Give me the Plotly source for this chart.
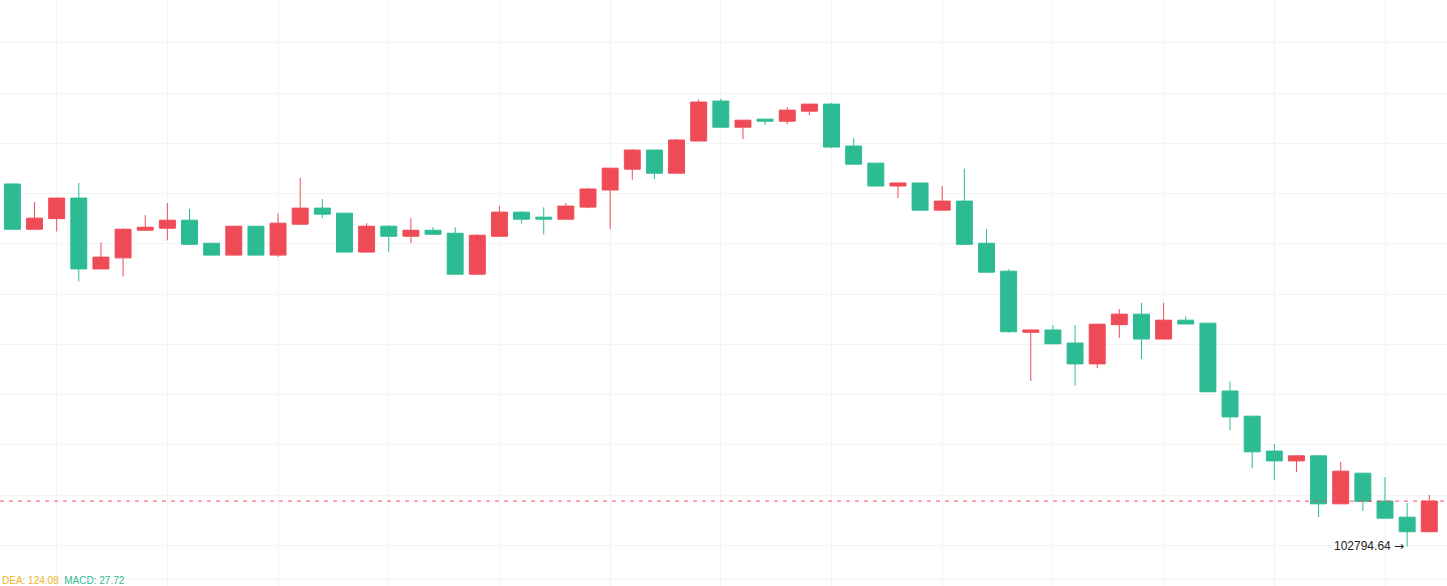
import plotly.graph_objects as go

# ---- data ----
idx = list(range(65))
opens = [104238, 104058, 104100, 104182, 103900, 103944, 104054, 104062, 104094, 104002,
         103955, 104070, 103955, 104078, 104142, 104122, 103967, 104070, 104030, 104054,
         104042, 103879, 104030, 104126, 104106, 104098, 104146, 104214, 104297, 104373,
         104281, 104409, 104568, 104464, 104496, 104488, 104528, 104556, 104389, 104321,
         104230, 104242, 104134, 104170, 104002, 103891, 103648, 103657, 103605, 103522,
         103678, 103720, 103621, 103696, 103684, 103414, 103314, 103175, 103136, 103156,
         102965, 103087, 102976, 102912, 102854]
highs = [104238, 104166, 104182, 104242, 104006, 104062, 104114, 104162, 104139, 104002,
         104070, 104070, 104121, 104262, 104178, 104122, 104082, 104074, 104102, 104066,
         104066, 104038, 104150, 104130, 104145, 104162, 104222, 104301, 104377, 104373,
         104417, 104575, 104577, 104492, 104496, 104544, 104556, 104560, 104421, 104321,
         104242, 104242, 104230, 104299, 104058, 103898, 103657, 103676, 103676, 103680,
         103740, 103765, 103765, 103712, 103684, 103452, 103314, 103203, 103159, 103156,
         103131, 103087, 103071, 102968, 103000]
lows = [104058, 104058, 104049, 103850, 103900, 103870, 104054, 104014, 103998, 103955,
        103955, 103955, 103948, 104078, 104102, 103967, 103967, 103967, 104002, 104038,
        103879, 103879, 104030, 104082, 104038, 104098, 104142, 104058, 104255, 104258,
        104281, 104409, 104464, 104417, 104474, 104476, 104512, 104381, 104317, 104230,
        104182, 104134, 104134, 103998, 103887, 103646, 103454, 103602, 103436, 103505,
        103626, 103541, 103621, 103681, 103411, 103258, 103107, 103060, 103091, 102912,
        102965, 102936, 102908, 102794.64, 102854]
closes = [104058, 104102, 104182, 103900, 103947, 104058, 104066, 104094, 103998, 103955,
          104070, 103955, 104082, 104142, 104118, 103967, 104070, 104030, 104054, 104038,
          103879, 104034, 104126, 104098, 104098, 104150, 104218, 104301, 104373, 104281,
          104413, 104564, 104464, 104492, 104488, 104532, 104556, 104385, 104317, 104230,
          104242, 104134, 104170, 103998, 103887, 103650, 103657, 103602, 103522, 103680,
          103720, 103621, 103696, 103681, 103411, 103311, 103172, 103136, 103156, 102965,
          103095, 102975, 102908, 102854, 102976]

low_label = "102794.64"
dea_label = "DEA: 124.08"
macd_label = "MACD: 27.72"

UP = "#ef4b56"    # rising candles (red)
DOWN = "#2dbb93"  # falling candles (green)
GRID = "#f4f4f4"

fig = go.Figure()
fig.add_trace(go.Candlestick(
    x=idx, open=opens, high=highs, low=lows, close=closes,
    increasing=dict(line=dict(color=UP, width=1), fillcolor=UP),
    decreasing=dict(line=dict(color=DOWN, width=1), fillcolor=DOWN),
    whiskerwidth=0, showlegend=False, hoverinfo="skip",
))

last_close = closes[-1]
min_i = min(range(len(lows)), key=lambda i: lows[i])

fig.add_shape(type="line", xref="paper", x0=0, x1=1, yref="y", y0=last_close, y1=last_close,
              line=dict(color=UP, width=1, dash="4px,5px"), layer="above")
fig.add_shape(type="line", xref="paper", x0=0, x1=1, yref="paper", y0=7/586, y1=7/586,
              line=dict(color=GRID, width=1), layer="below")

fig.add_annotation(x=idx[min_i], y=lows[min_i], xref="x", yref="y",
                   text=low_label + ' <span style="font-family:DejaVu Sans">→</span>',
                   showarrow=False, xanchor="right", yanchor="middle", xshift=-1, yshift=1,
                   font=dict(family="Arial", size=12, color="#222222"))
fig.add_annotation(x=0, y=0, xref="paper", yref="paper", xanchor="left", yanchor="bottom",
                   showarrow=False, yshift=-2,
                   text=f'<span style="color:#f0b429">{dea_label}</span>  <span style="color:#2dbb93">{macd_label}</span>',
                   font=dict(family="Arial", size=10))

y_top = 104970.3
y_bot = 104970.3 - 3.98 * 586
fig.update_layout(
    width=1447, height=586,
    margin=dict(l=0, r=0, t=0, b=0),
    paper_bgcolor="white", plot_bgcolor="white",
    boxgap=0.2, boxgroupgap=0.1,
    xaxis=dict(range=[-0.56, 64.80], showticklabels=False, showgrid=True, gridcolor=GRID,
               tick0=2, dtick=5, zeroline=False, showline=False, rangeslider=dict(visible=False),
               fixedrange=True),
    yaxis=dict(range=[y_bot, y_top], showticklabels=False, showgrid=True, gridcolor=GRID,
               tick0=102800, dtick=200, zeroline=False, showline=False, fixedrange=True),
)
fig.write_html("out.html", config={"displayModeBar": False},
               post_script="document.body.style.margin='0';document.body.style.padding='0';")
